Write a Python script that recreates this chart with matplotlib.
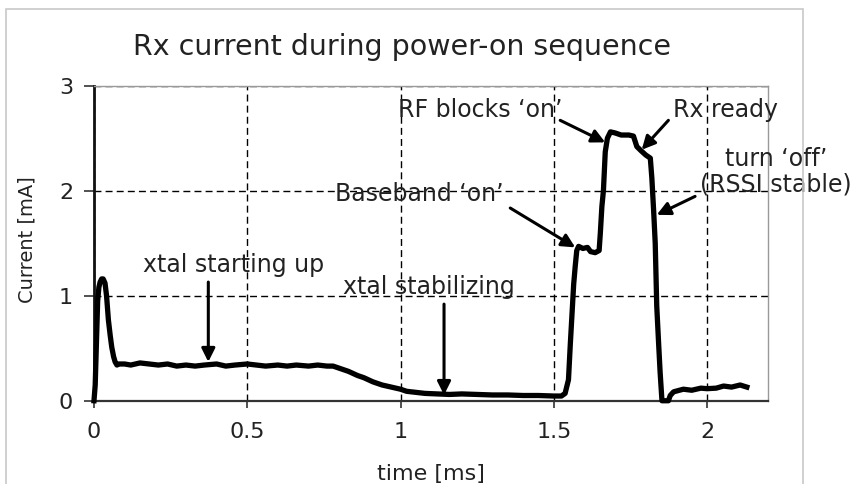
import matplotlib.pyplot as plt
from matplotlib.patches import Rectangle
from matplotlib.ticker import FuncFormatter

plt.rcParams['font.family'] = ['DejaVu Sans']

# current trace: time [ms], current [mA]
time_ms = [0.000, 0.004, 0.008, 0.012, 0.016, 0.020, 0.025, 0.030, 0.036, 0.041,
           0.047, 0.053, 0.058, 0.064, 0.069, 0.075, 0.080, 0.10, 0.12, 0.15,
           0.18, 0.21, 0.24, 0.27, 0.30, 0.33, 0.36, 0.40, 0.43, 0.46,
           0.50, 0.53, 0.56, 0.60, 0.63, 0.66, 0.70, 0.73, 0.76, 0.78,
           0.80, 0.83, 0.86, 0.88, 0.91, 0.94, 0.97, 1.00, 1.02, 1.05,
           1.08, 1.12, 1.16, 1.20, 1.25, 1.30, 1.35, 1.40, 1.45, 1.50,
           1.525, 1.537, 1.548, 1.554, 1.560, 1.565, 1.570, 1.575, 1.581, 1.595,
           1.610, 1.620, 1.635, 1.648, 1.652, 1.657, 1.662, 1.668, 1.675, 1.685,
           1.700, 1.720, 1.745, 1.760, 1.771, 1.785, 1.800, 1.815, 1.820, 1.826,
           1.831, 1.836, 1.842, 1.847, 1.853, 1.874, 1.880, 1.891, 1.910, 1.923,
           1.95, 1.98, 2.00, 2.03, 2.054, 2.08, 2.108, 2.13]
current_ma = [0.00, 0.15, 0.55, 0.95, 1.08, 1.13, 1.16, 1.16, 1.12, 1.00,
              0.77, 0.62, 0.51, 0.42, 0.37, 0.34, 0.35, 0.35, 0.34, 0.36,
              0.35, 0.34, 0.35, 0.33, 0.34, 0.33, 0.34, 0.35, 0.33, 0.34,
              0.35, 0.34, 0.33, 0.34, 0.33, 0.34, 0.33, 0.34, 0.33, 0.33,
              0.31, 0.28, 0.24, 0.22, 0.18, 0.15, 0.13, 0.11, 0.09, 0.08,
              0.07, 0.065, 0.06, 0.065, 0.06, 0.055, 0.055, 0.05, 0.05, 0.045,
              0.045, 0.07, 0.20, 0.54, 0.85, 1.11, 1.28, 1.43, 1.47, 1.45,
              1.46, 1.42, 1.41, 1.43, 1.60, 1.85, 2.00, 2.37, 2.50, 2.56,
              2.55, 2.53, 2.53, 2.52, 2.42, 2.38, 2.34, 2.31, 2.12, 1.80,
              1.50, 0.90, 0.55, 0.27, 0.00, 0.00, 0.05, 0.085, 0.10, 0.11,
              0.10, 0.12, 0.115, 0.12, 0.14, 0.13, 0.15, 0.13]

x_ticks = [0, 0.5, 1, 1.5, 2]
y_ticks = [0, 1, 2, 3]

# annotations: text, text position, arrow tail, arrow head
labels = ["xtal starting up", "xtal stabilizing", "Baseband \u2018on\u2019",
          "RF blocks \u2018on\u2019", "Rx ready"]
label_pos = [(0.160, 1.23), (0.814, 1.02), (0.787, 1.90), (0.992, 2.70), (1.889, 2.70)]
arrow_tail = [(0.373, 1.13), (1.142, 0.92), (1.358, 1.835), (1.521, 2.67), (1.874, 2.67)]
arrow_head = [(0.373, 0.37), (1.142, 0.055), (1.570, 1.46), (1.668, 2.46), (1.787, 2.39)]
off_label = "turn \u2018off\u2019\n(RSSI stable)"

fig = plt.figure(figsize=(8.63, 4.84), dpi=100)
ax = fig.add_axes([0.1089, 0.172, 0.7814, 0.651])

ax.plot(time_ms, current_ma, color='black', lw=3.8, solid_joinstyle='round', clip_on=False, zorder=3)

ax.set_xlim(0, 2.2)
ax.set_ylim(0, 3)
ax.set_xticks(x_ticks)
ax.set_yticks(y_ticks)
ax.xaxis.set_major_formatter(FuncFormatter(lambda v, p: '%g' % v))
ax.yaxis.set_major_formatter(FuncFormatter(lambda v, p: '%g' % v))
ax.tick_params(axis='x', length=5, width=1.2, color='#333', pad=10, labelsize=16, labelcolor='#222')
ax.tick_params(axis='y', length=7, width=1.2, color='#333', pad=8, labelsize=16, labelcolor='#222')
ax.grid(color='black', linestyle=(0, (5, 3)), linewidth=1)

ax.spines['left'].set_color('#111')
ax.spines['left'].set_linewidth(2)
ax.spines['bottom'].set_color('#333')
ax.spines['bottom'].set_linewidth(1.6)
for side in ['top', 'right']:
    ax.spines[side].set_color('#999')
    ax.spines[side].set_linewidth(1)

for txt, pos, tail, head in zip(labels, label_pos, arrow_tail, arrow_head):
    ax.text(pos[0], pos[1], txt, fontsize=17, color='#222', ha='left', va='baseline')
    ax.annotate('', xy=head, xytext=tail,
                arrowprops=dict(arrowstyle='-|>', color='black', lw=2.2,
                                mutation_scale=20, shrinkA=0, shrinkB=0))

ax.text(2.226, 1.99, off_label, fontsize=17, color='#222', ha='center', va='baseline',
        linespacing=1.1, clip_on=False)
ax.annotate('', xy=(1.836, 1.77), xytext=(1.961, 1.946),
            arrowprops=dict(arrowstyle='-|>', color='black', lw=2.2,
                            mutation_scale=20, shrinkA=0, shrinkB=0))

fig.text(402 / 863, 1 - 55 / 484, 'Rx current during power-on sequence',
         fontsize=20.5, color='#222', ha='center', va='baseline')
fig.text(27 / 863, 1 - 240 / 484, 'Current [mA]', rotation=90,
         fontsize=14, color='#222', ha='center', va='center')
fig.text(431 / 863, 1 - 480 / 484, 'time [ms]',
         fontsize=16, color='#222', ha='center', va='baseline')

# light grey frame around the whole chart
fig.patches.append(Rectangle((6 / 863, -0.05), (803 - 6) / 863, 1 - 9 / 484 + 0.05,
                             transform=fig.transFigure, fill=False,
                             edgecolor='#c8c8c8', lw=1.2, zorder=0))

fig.savefig('out.png', dpi=100)
